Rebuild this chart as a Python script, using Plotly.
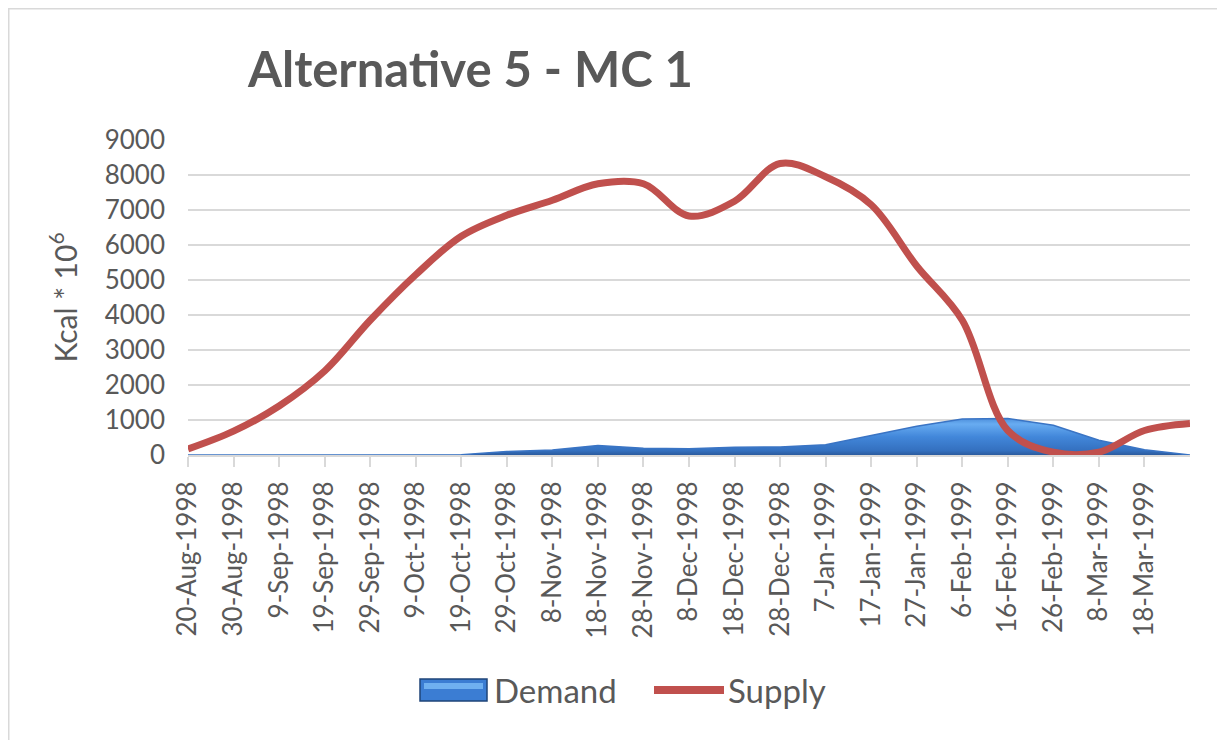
import plotly.graph_objects as go

dates = ["1998-08-20", "1998-08-30", "1998-09-09", "1998-09-19", "1998-09-29",
         "1998-10-09", "1998-10-19", "1998-10-29", "1998-11-08", "1998-11-18",
         "1998-11-28", "1998-12-08", "1998-12-18", "1998-12-28", "1999-01-07",
         "1999-01-17", "1999-01-27", "1999-02-06", "1999-02-16", "1999-02-26",
         "1999-03-08", "1999-03-18", "1999-03-28"]
tick_labels = ["20-Aug-1998", "30-Aug-1998", "9-Sep-1998", "19-Sep-1998", "29-Sep-1998",
               "9-Oct-1998", "19-Oct-1998", "29-Oct-1998", "8-Nov-1998", "18-Nov-1998",
               "28-Nov-1998", "8-Dec-1998", "18-Dec-1998", "28-Dec-1998", "7-Jan-1999",
               "17-Jan-1999", "27-Jan-1999", "6-Feb-1999", "16-Feb-1999", "26-Feb-1999",
               "8-Mar-1999", "18-Mar-1999"]
supply = [170, 680, 1400, 2400, 3850, 5150, 6250, 6850, 7280, 7750, 7750, 6830,
          7250, 8330, 7950, 7150, 5400, 3850, 700, 80, 80, 700, 900]
demand = [0, 0, 0, 0, 0, 0, 10, 100, 140, 270, 190, 180, 220, 230, 290, 560,
          820, 1030, 1040, 850, 420, 150, 0]

FONT = "Lato"
GREY = "#595959"

# page body has an 8px margin; plot area should sit at window x 188..1190, y 140..455
L, R, T, B = 180, 43, 132, 293
PW, PH = 1225 - L - R, 740 - T - B


def px(xw):
    return (xw - 188) / PW


def py(yw):
    return (455 - yw) / PH


fig = go.Figure()
fig.add_trace(go.Scatter(
    x=dates, y=demand, name="Demand", mode="lines",
    line=dict(color="#3a74c4", width=1.5, shape="linear"),
    fill="tozeroy",
    fillgradient=dict(type="vertical",
                      colorscale=[[0, "#2b5b9e"], [0.12, "#3470bf"], [0.5, "#4287da"],
                                  [0.85, "#68acf1"], [1, "#4f90dc"]]),
    showlegend=False,
))
fig.add_trace(go.Scatter(
    x=dates, y=supply, name="Supply", mode="lines",
    line=dict(color="#c0504d", width=7, shape="spline", smoothing=1.0),
    showlegend=False,
))

shapes = [
    # chart border
    dict(type="rect", xref="paper", yref="paper",
         x0=(0 - L) / PW, x1=(1260 - L) / PW, y0=-1.2, y1=(740 - B) / PH,
         line=dict(color="#d9d9d9", width=3), fillcolor="rgba(0,0,0,0)", layer="below"),
    # legend: Demand swatch
    dict(type="rect", xref="paper", yref="paper",
         x0=px(420), x1=px(487), y0=py(701), y1=py(679),
         line=dict(color="#1f4478", width=1.5), fillcolor="#3b7dd3"),
    dict(type="rect", xref="paper", yref="paper",
         x0=px(424), x1=px(483), y0=py(689), y1=py(683),
         line=dict(width=0), fillcolor="#6fb0f0"),
    # legend: Supply line
    dict(type="line", xref="paper", yref="paper",
         x0=px(654), x1=px(724), y0=py(690), y1=py(690),
         line=dict(color="#c0504d", width=8)),
]

annotations = [
    dict(text="Demand", xref="paper", yref="paper", x=px(492), y=py(690),
         xanchor="left", yanchor="middle", showarrow=False,
         font=dict(family=FONT, size=33, color=GREY)),
    dict(text="Supply", xref="paper", yref="paper", x=px(726), y=py(690),
         xanchor="left", yanchor="middle", showarrow=False,
         font=dict(family=FONT, size=33, color=GREY)),
]

fig.update_layout(
    width=1225, height=740,
    paper_bgcolor="white", plot_bgcolor="white",
    margin=dict(l=L, r=R, t=T, b=B, autoexpand=False),
    font=dict(family=FONT, color=GREY, size=26),
    title=dict(text="<b>Alternative 5 - MC 1</b>", x=240 / 1225, xanchor="left",
               y=1 - 62 / 740, yanchor="middle", yref="container",
               font=dict(family=FONT, size=49, color=GREY)),
    showlegend=False,
    xaxis=dict(
        type="date",
        range=["1998-08-20", "1999-03-28"],
        tickmode="array", tickvals=dates[:-1], ticktext=tick_labels,
        tickangle=-90, ticks="outside", ticklen=10, tickwidth=2, tickcolor="#d9d9d9",
        ticklabelstandoff=4,
        showline=True, linecolor="#d9d9d9", linewidth=2,
        showgrid=False, zeroline=False,
        tickfont=dict(family=FONT, size=26, color=GREY),
    ),
    yaxis=dict(
        range=[0, 9000], dtick=1000, tick0=0,
        showgrid=True, gridcolor="#d9d9d9", gridwidth=2,
        zeroline=False, showline=False, ticks="",
        ticklabelstandoff=22,
        tickfont=dict(family=FONT, size=26, color=GREY),
        title=dict(text="Kcal * 10<sup>6</sup>", standoff=18,
                   font=dict(family=FONT, size=30, color=GREY)),
    ),
    shapes=shapes,
    annotations=annotations,
)

fig.write_html("out.html")
